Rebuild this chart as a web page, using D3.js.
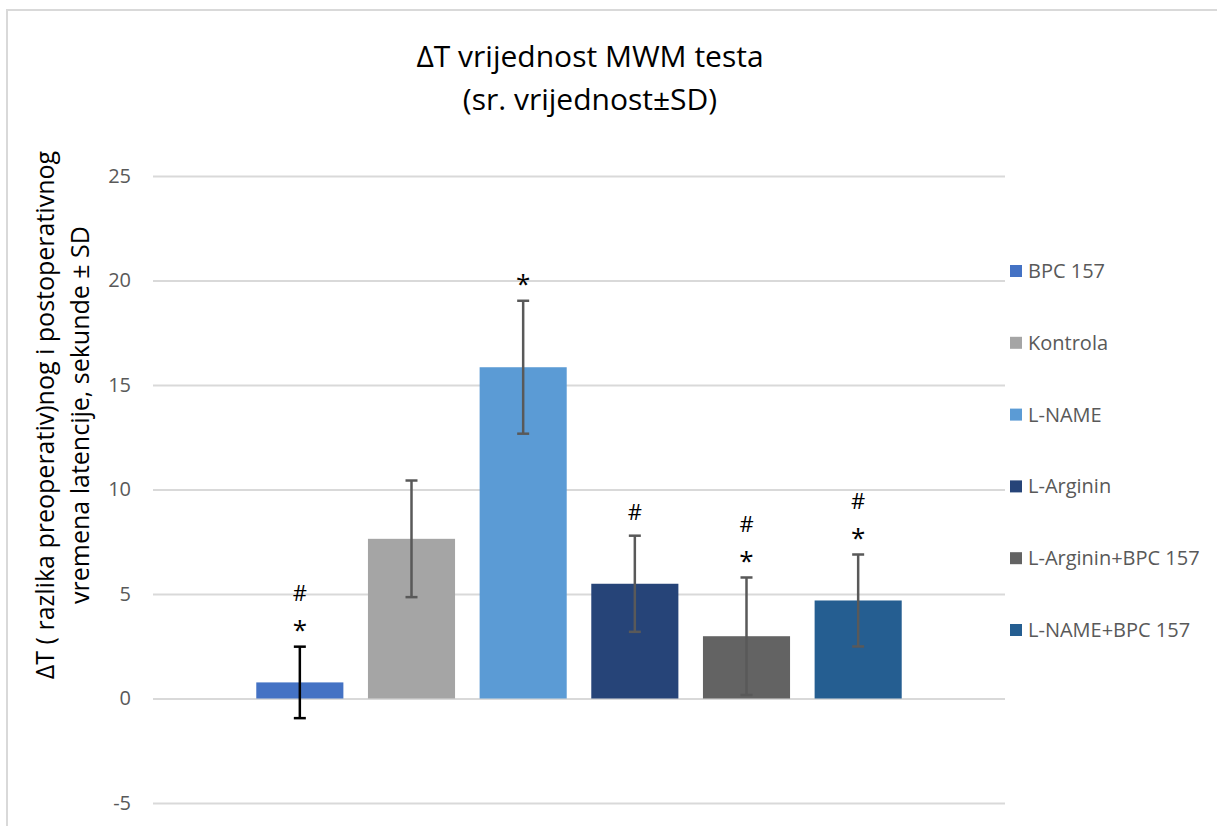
<!DOCTYPE html>
<html>
<head>
<meta charset="utf-8">
<script src="https://cdn.jsdelivr.net/npm/d3@7"></script>
<style>
  body { margin: 0; background: #fff; }
  text { font-family: "Open Sans", "Noto Sans", sans-serif; }
</style>
</head>
<body>
<div id="chart"></div>
<script>
// chart data
const groups = ["BPC 157", "Kontrola", "L-NAME", "L-Arginin", "L-Arginin+BPC 157", "L-NAME+BPC 157"];
const means = [0.77, 7.64, 15.85, 5.49, 2.98, 4.69];
const sds = [1.71, 2.79, 3.18, 2.3, 2.81, 2.2];
const marks = [["*", "#"], [], ["*"], ["#"], ["*", "#"], ["*", "#"]];
const colors = ["#4472c4", "#a5a5a5", "#5b9bd5", "#264478", "#636363", "#255e91"];
const errColors = ["#000000", "#595959", "#595959", "#595959", "#595959", "#595959"];
const yTicks = [-5, 0, 5, 10, 15, 20, 25];

const width = 1217;
const height = 826;
const margin = {left: 153, right: 212, top: 176, bottom: 23};

const svg = d3.select("#chart")
  .append("svg")
  .attr("width", width)
  .attr("height", height);

// outer chart frame (only top and left edge are in view)
svg.append("path")
  .attr("d", `M7,${height} V10 H${width}`)
  .attr("fill", "none")
  .attr("stroke", "#d9d9d9")
  .attr("stroke-width", 2);

// scales
let yScale = d3.scaleLinear()
  .domain([-5, 25])
  .range([803, 176]);

let xScale = d3.scaleBand()
  .domain(groups)
  .range([244, 914])
  .paddingInner(0.22)
  .paddingOuter(0.11);

// grid lines + tick labels
const yAxis = svg.append("g")
  .attr("transform", `translate(${margin.left},0)`)
  .call(d3.axisLeft(yScale)
    .tickValues(yTicks)
    .tickFormat(d => String(d))
    .tickSize(-(1005 - margin.left))
    .tickPadding(22));

yAxis.select(".domain").remove();
yAxis.selectAll(".tick line")
  .attr("stroke", "#d9d9d9")
  .attr("stroke-width", 2);
yAxis.selectAll(".tick text")
  .attr("fill", "#595959")
  .attr("font-size", "20px");

// bars
svg.selectAll(".bar")
  .data(groups)
  .enter()
  .append("rect")
    .attr("class", "bar")
    .attr("x", d => xScale(d))
    .attr("y", (d, i) => yScale(Math.max(0, means[i])))
    .attr("width", xScale.bandwidth())
    .attr("height", (d, i) => Math.abs(yScale(means[i]) - yScale(0)))
    .attr("fill", (d, i) => colors[i]);

// error bars
const err = svg.selectAll(".err")
  .data(groups)
  .enter()
  .append("g")
    .attr("class", "err")
    .attr("stroke", (d, i) => errColors[i])
    .attr("stroke-width", 2.5);

err.append("line")
  .attr("x1", d => xScale(d) + xScale.bandwidth() / 2)
  .attr("x2", d => xScale(d) + xScale.bandwidth() / 2)
  .attr("y1", (d, i) => yScale(means[i] + sds[i]))
  .attr("y2", (d, i) => yScale(means[i] - sds[i]));

[1, -1].forEach(sign => {
  err.append("line")
    .attr("x1", d => xScale(d) + xScale.bandwidth() / 2 - 6)
    .attr("x2", d => xScale(d) + xScale.bandwidth() / 2 + 6)
    .attr("y1", (d, i) => yScale(means[i] + sign * sds[i]))
    .attr("y2", (d, i) => yScale(means[i] + sign * sds[i]));
});

// significance marks stacked above the error bars
groups.forEach((g, i) => {
  marks[i].forEach((m, j) => {
    svg.append("text")
      .attr("x", xScale(g) + xScale.bandwidth() / 2)
      .attr("y", yScale(means[i] + sds[i]) - 23 - j * 30)
      .attr("dy", m === "*" ? "0.6em" : "0.35em")
      .attr("text-anchor", "middle")
      .attr("font-size", m === "*" ? "26px" : "22px")
      .attr("fill", "#000")
      .text(m);
  });
});

// title
svg.append("text")
  .attr("x", 590)
  .attr("y", 67)
  .attr("text-anchor", "middle")
  .attr("font-size", "30px")
  .attr("fill", "#000")
  .text("ΔT vrijednost MWM testa");

svg.append("text")
  .attr("x", 590)
  .attr("y", 110)
  .attr("text-anchor", "middle")
  .attr("font-size", "30px")
  .attr("fill", "#000")
  .text("(sr. vrijednost±SD)");

// y axis title, two lines
const yTitle = svg.append("text")
  .attr("transform", "translate(62,415) rotate(-90)")
  .attr("text-anchor", "middle")
  .attr("font-size", "25px")
  .attr("fill", "#000");

yTitle.append("tspan")
  .attr("x", 0)
  .attr("y", -8)
  .text("ΔT ( razlika preoperativ)nog i postoperativnog");

yTitle.append("tspan")
  .attr("x", 0)
  .attr("y", 27)
  .text("vremena latencije, sekunde ± SD");

// legend
const legend = svg.selectAll(".legend")
  .data(groups)
  .enter()
  .append("g")
    .attr("class", "legend")
    .attr("transform", (d, i) => `translate(1010,${271 + i * 71.8})`);

legend.append("rect")
  .attr("x", 0)
  .attr("y", -6)
  .attr("width", 12)
  .attr("height", 12)
  .attr("fill", (d, i) => colors[i]);

legend.append("text")
  .attr("x", 18)
  .attr("y", 0)
  .attr("dy", "0.35em")
  .attr("font-size", "20px")
  .attr("fill", "#595959")
  .text(d => d);
</script>
</body>
</html>
